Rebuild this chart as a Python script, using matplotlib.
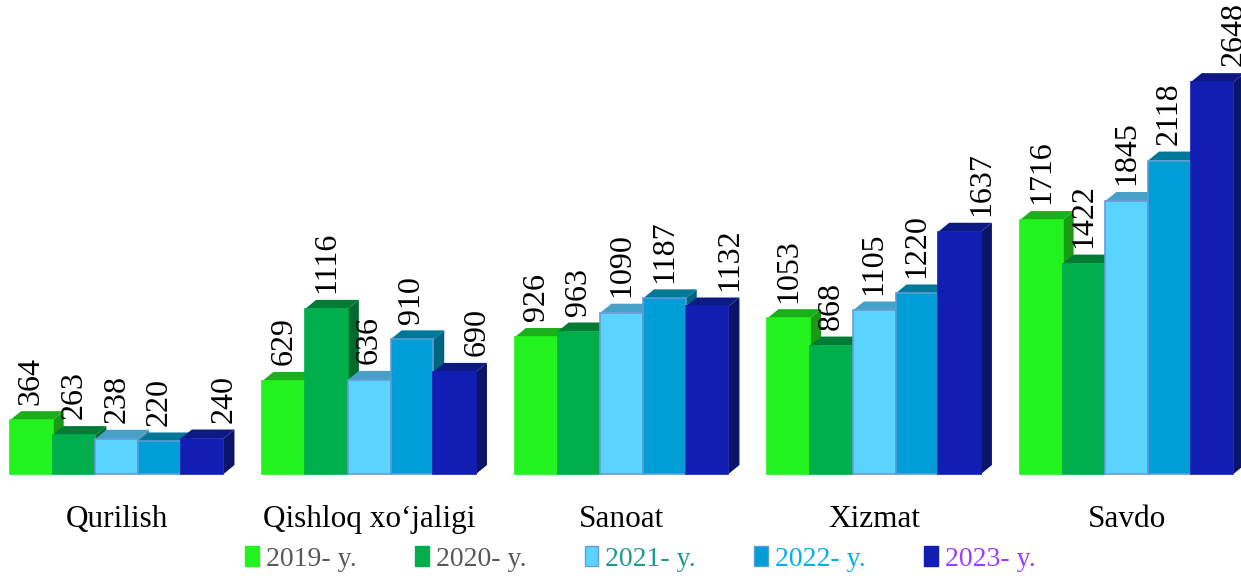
import numpy as np
import matplotlib.pyplot as plt
from matplotlib.patches import Patch

categories = ["Qurilish", "Qishloq xo\u2018jaligi", "Sanoat", "Xizmat", "Savdo"]
years = ["2019- y.", "2020- y.", "2021- y.", "2022- y.", "2023- y."]
v2019 = [364, 629, 926, 1053, 1716]
v2020 = [263, 1116, 963, 868, 1422]
v2021 = [238, 636, 1090, 1105, 1845]
v2022 = [220, 910, 1187, 1220, 2118]
v2023 = [240, 690, 1132, 1637, 2648]
series = [v2019, v2020, v2021, v2022, v2023]

front = ["#22f21e", "#00ae4c", "#5ad3fe", "#009ed6", "#121db3"]
top = ["#1bb01a", "#007c35", "#46a0c8", "#00789a", "#0e1a84"]
side = ["#199a14", "#006a2c", "#3a8ab0", "#006480", "#0a1468"]
edge = ["#22f21e", "#00ae4c", "#6a9bd8", "#5b9bd5", "#121db3"]
legend_text = ["#595959", "#595959", "#1f9a8c", "#00b0f0", "#9b3cff"]

plt.rcParams['font.family'] = ['Liberation Serif', 'DejaVu Serif']

fig = plt.figure(figsize=(12.41, 5.76), dpi=100)
ax = fig.add_axes([0, 0, 1, 1])
ax.set_xlim(-0.234, 28.83)
ax.set_ylim(-689, 3203)
ax.axis("off")

period = 5.913
# depth of the fake 3d boxes, pixels -> data units
dx = 11 / 42.7
dy = 9 / 0.148

for g in range(len(categories)):
    for i, vals in enumerate(series):
        x0 = g * period + i
        h = vals[g]
        # side, top, then front
        ax.fill([x0 + 1, x0 + 1 + dx, x0 + 1 + dx, x0 + 1],
                [0, dy, h + dy, h], color=side[i], lw=0)
        ax.fill([x0, x0 + dx, x0 + 1 + dx, x0 + 1],
                [h, h + dy, h + dy, h], color=top[i], lw=0)
        ax.fill([x0, x0 + 1, x0 + 1, x0], [0, 0, h, h],
                facecolor=front[i], edgecolor=edge[i], lw=1.2)

for g in range(len(categories)):
    for i, vals in enumerate(series):
        xc = g * period + i + 0.5
        if i == 4:
            xc += 0.52
        ax.text(xc, vals[g] + dy + 45, str(vals[g]), rotation=90,
                ha="center", va="bottom", fontsize=23, zorder=10)
    ax.text(g * period + 2.5, -358, categories[g], ha="center",
            va="baseline", fontsize=22.5)

handles = [Patch(facecolor=front[i], edgecolor=edge[i]) for i in range(5)]
fig.legend(handles, years, loc="center", bbox_to_anchor=(0.516, 1 - 559 / 576),
           ncol=5, frameon=False, fontsize=20, handlelength=0.5,
           handleheight=0.75, handletextpad=0.25, columnspacing=2.1,
           labelcolor=legend_text)

fig.savefig("out.png", dpi=100)
